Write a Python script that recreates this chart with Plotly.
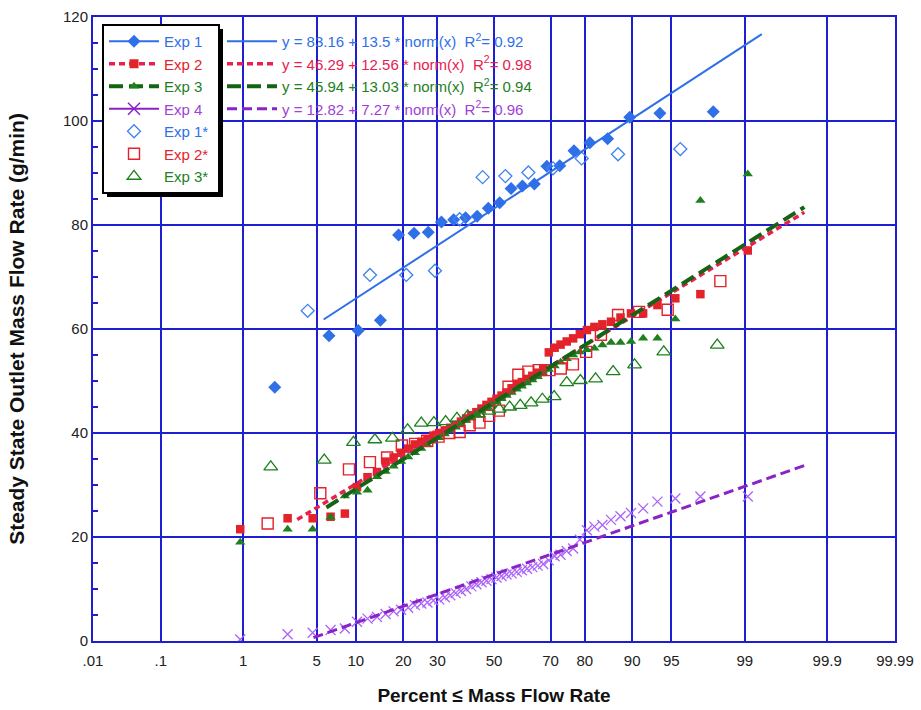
import plotly.graph_objects as go
from statistics import NormalDist

_nd = NormalDist()


def z(p):
    return _nd.inv_cdf(p / 100.0)


# ---------------- data (percent <= value, value in g/min) ----------------
exp1_pct = [2.1, 6.3, 10.4, 14.6, 18.8, 22.9, 27.1, 31.3, 35.4, 39.6, 43.8, 47.9,
            52.1, 56.3, 60.4, 64.6, 68.8, 72.9, 77.1, 81.3, 85.4, 89.6, 93.8, 97.9]
exp1_val = [48.8, 58.7, 59.7, 61.7, 78.1, 78.4, 78.6, 80.6, 81.0, 81.4, 81.7, 83.2,
            84.3, 87.0, 87.5, 87.9, 91.3, 91.4, 94.3, 95.8, 96.6, 100.7, 101.5, 101.8]

exp1s_pct = [4.2, 12.5, 20.8, 29.2, 37.5, 45.8, 54.2, 62.5, 70.8, 79.2, 87.5, 95.8]
exp1s_val = [63.5, 70.4, 70.4, 71.2, 81.1, 89.2, 89.4, 90.1, 90.9, 92.8, 93.6, 94.6]

pct54 = [0.93, 2.78, 4.63, 6.48, 8.33, 10.19, 12.04, 13.89, 15.74, 17.59, 19.44,
         21.30, 23.15, 25.0, 26.85, 28.70, 30.56, 32.41, 34.26, 36.11, 37.96, 39.81,
         41.67, 43.52, 45.37, 47.22, 49.07, 50.93, 52.78, 54.63, 56.48, 58.33, 60.19,
         62.04, 63.89, 65.74, 67.59, 69.44, 71.30, 73.15, 75.0, 76.85, 78.70, 80.56,
         82.41, 84.26, 86.11, 87.96, 89.81, 91.67, 93.52, 95.37, 97.22, 99.07]

exp2_val = [21.5, 23.6, 23.6, 23.9, 24.5, 29.6, 31.5, 32.5, 34.5, 35.3, 36.2,
            37.0, 37.8, 38.3, 38.8, 39.5, 40.0, 40.5, 41.0, 41.6, 42.2, 42.8,
            43.4, 44.0, 44.7, 45.4, 46.0, 46.6, 47.2, 47.8, 48.6, 49.2, 49.8,
            50.4, 51.0, 51.6, 52.3, 55.5, 56.4, 57.0, 57.6, 58.2, 59.0, 59.8,
            60.4, 60.9, 61.4, 62.2, 63.0, 63.0, 64.6, 65.9, 66.7, 75.1]

exp3_val = [19.0, 21.5, 21.5, 23.8, 27.9, 28.6, 29.0, 31.6, 32.6, 33.6, 34.5,
            35.4, 36.2, 37.0, 37.7, 38.4, 39.1, 39.8, 40.5, 41.1, 41.8, 42.4,
            43.0, 43.6, 44.2, 44.8, 45.4, 46.0, 46.6, 47.2, 47.8, 48.4, 49.0,
            49.6, 50.2, 50.8, 51.5, 52.2, 52.9, 53.6, 54.3, 55.0, 55.6, 56.0,
            56.3, 56.9, 57.4, 57.4, 57.6, 58.2, 58.2, 61.9, 84.7, 89.8]

exp4_val = [0.3, 1.3, 1.6, 2.1, 2.4, 3.7, 4.3, 4.6, 5.2, 5.7, 6.0,
            6.4, 6.9, 7.2, 7.4, 7.8, 8.0, 8.4, 8.8, 9.2, 9.6, 10.0,
            10.5, 10.9, 11.3, 11.6, 11.9, 12.2, 12.5, 12.8, 13.0, 13.3, 13.6,
            13.9, 14.2, 14.5, 14.8, 15.5, 16.3, 16.6, 17.3, 17.8, 19.5, 21.3,
            22.0, 22.3, 23.3, 24.0, 24.6, 25.5, 26.8, 27.4, 27.8, 27.8]

exp2s_pct = [1.79, 5.36, 8.93, 12.5, 16.07, 19.64, 23.21, 26.79, 30.36, 33.93,
             37.5, 41.07, 44.64, 48.21, 51.79, 55.36, 58.93, 62.5, 66.07, 69.64,
             73.21, 76.79, 80.36, 83.93, 87.5, 91.07, 94.64, 98.21]
exp2s_val = [22.6, 28.4, 33.0, 34.4, 35.3, 37.6, 37.9, 38.5, 39.3, 40.0,
             40.2, 41.5, 42.0, 43.3, 44.3, 48.9, 51.2, 51.8, 52.1, 52.1,
             52.4, 53.2, 55.6, 58.9, 62.7, 63.3, 63.7, 69.2]

exp3s_pct = [1.92, 5.77, 9.62, 13.46, 17.31, 21.15, 25.0, 28.85, 32.69, 36.54,
             40.38, 44.23, 48.08, 51.92, 55.77, 59.62, 63.46, 67.31, 71.15, 75.0,
             78.85, 82.69, 86.54, 90.38, 94.23, 98.08]
exp3s_val = [33.5, 34.8, 38.2, 38.7, 39.0, 40.6, 41.9, 42.0, 42.2, 42.8,
             43.3, 43.7, 44.2, 44.6, 45.0, 45.3, 45.8, 46.5, 47.0, 49.7,
             50.1, 50.4, 51.8, 53.1, 55.6, 56.9]

# fits: y = a + b * norm(x); drawn over a percent range
fit_names = ["Exp 1", "Exp 2", "Exp 3", "Exp 4"]
fit_a = [83.16, 46.29, 45.94, 12.82]
fit_b = [13.5, 12.56, 13.03, 7.27]
fit_r2 = ["0.92", "0.98", "0.94", "0.96"]
fit_pct_lo = [5.7, 3.4, 6.0, 4.7]
fit_pct_hi = [99.35, 99.8, 99.8, 99.8]

tick_pct = [0.01, 0.1, 1, 5, 10, 20, 30, 50, 70, 80, 90, 95, 99, 99.9, 99.99]
tick_txt = [".01", ".1", "1", "5", "10", "20", "30", "50", "70", "80", "90", "95",
            "99", "99.9", "99.99"]

# ---------------- styles ----------------
BLUE = "#2F6FE8"
RED = "#E3222A"
REDL = "#E8204F"
GREEN = "#1E801E"
GREENL = "#146414"
PURPLE = "#A040D8"
PURPLEL = "#8A22C8"
GRID = "#1E1ED2"
FONT = "Liberation Sans, Arial, Helvetica, sans-serif"


def col(txt, c):
    return "<span style='color:%s'>%s</span>" % (c, txt)


fig = go.Figure()


def zs(pcts):
    return [z(p) for p in pcts]


# data markers
fig.add_trace(go.Scatter(x=zs(exp1_pct), y=exp1_val, mode="markers", showlegend=False,
                         marker=dict(symbol="diamond", size=10, color=BLUE)))
fig.add_trace(go.Scatter(x=zs(pct54), y=exp2_val, mode="markers", showlegend=False,
                         marker=dict(symbol="square", size=8.5, color=RED)))
fig.add_trace(go.Scatter(x=zs(pct54), y=exp3_val, mode="markers", showlegend=False,
                         marker=dict(symbol="triangle-up", size=9, color=GREEN)))
fig.add_trace(go.Scatter(x=zs(pct54), y=exp4_val, mode="markers", showlegend=False,
                         marker=dict(symbol="x-thin-open", size=10,
                                     line=dict(color="#B45AE6", width=1.3))))
fig.add_trace(go.Scatter(x=zs(exp1s_pct), y=exp1s_val, mode="markers", showlegend=False,
                         marker=dict(symbol="diamond-open", size=10, color="#3E82F0",
                                     line=dict(width=1.3))))
fig.add_trace(go.Scatter(x=zs(exp2s_pct), y=exp2s_val, mode="markers", showlegend=False,
                         marker=dict(symbol="square-open", size=11, color=RED,
                                     line=dict(width=1.4))))
fig.add_trace(go.Scatter(x=zs(exp3s_pct), y=exp3s_val, mode="markers", showlegend=False,
                         marker=dict(symbol="triangle-up-open", size=12, color=GREEN,
                                     line=dict(width=1.3))))

line_styles = [
    dict(color=BLUE, width=2, dash="solid"),
    dict(color=REDL, width=3.5, dash="6px,4px"),
    dict(color=GREENL, width=4, dash="14px,6px"),
    dict(color=PURPLEL, width=3, dash="10px,5px"),
]
text_cols = [BLUE, REDL, GREEN, PURPLE]

# fit lines (legend2)
for i in range(4):
    xs = [z(fit_pct_lo[i]), z(fit_pct_hi[i])]
    ys = [fit_a[i] + fit_b[i] * v for v in xs]
    label = "y = %s + %s * norm(x)  R<sup>2</sup>= %s" % (fit_a[i], fit_b[i], fit_r2[i])
    fig.add_trace(go.Scatter(x=xs, y=ys, mode="lines", line=line_styles[i],
                             name=col(label, text_cols[i]), legend="legend2",
                             legendgroup="f%d" % i, hoverinfo="skip"))

# legend-only entries (legend 1)
leg1 = [
    ("Exp 1", "lines+markers", dict(symbol="diamond", size=10, color=BLUE), line_styles[0], BLUE),
    ("Exp 2", "lines+markers", dict(symbol="square", size=9, color=RED), line_styles[1], RED),
    ("Exp 3", "lines+markers", dict(symbol="triangle-up", size=9, color=GREEN), line_styles[2], GREEN),
    ("Exp 4", "lines+markers", dict(symbol="x-thin-open", size=12, line=dict(color=PURPLEL, width=1.5)),
     dict(color=PURPLEL, width=2), PURPLE),
    ("Exp 1*", "markers", dict(symbol="diamond-open", size=10, color="#3E82F0", line=dict(width=1.3)), None, BLUE),
    ("Exp 2*", "markers", dict(symbol="square-open", size=11, color=RED, line=dict(width=1.4)), None, RED),
    ("Exp 3*", "markers", dict(symbol="triangle-up-open", size=12, color=GREEN, line=dict(width=1.3)), None, GREEN),
]
for j, (nm, mode, mk, ln, tc) in enumerate(leg1):
    kw = dict(x=[None], y=[None], mode=mode, marker=mk, name=col(nm, tc),
              legend="legend", legendgroup="g%d" % j)
    if ln is not None:
        kw["line"] = ln
    fig.add_trace(go.Scatter(**kw))

L, R, T, B = 93, 26, 17, 69
W, H = 921, 710
pw, ph = W - L - R, H - T - B


def px2paper(xp, yp):
    return (xp - L) / pw, (H - B - yp) / ph


x0, y0 = px2paper(103, 25)
x1, y1 = px2paper(219, 193)
sx0, sy0 = px2paper(107, 29)
sx1, sy1 = px2paper(223, 197)
lx, ly = px2paper(104, 25)
l2x, _ = px2paper(222, 0)

fig.update_layout(
    width=W, height=H,
    margin=dict(l=L, r=R, t=T, b=B, autoexpand=False),
    paper_bgcolor="white", plot_bgcolor="white",
    font=dict(family=FONT, size=15, color="#222"),
    xaxis=dict(range=[z(0.01), z(99.99)], tickvals=zs(tick_pct), ticktext=tick_txt,
               automargin=False,
               showgrid=True, gridcolor=GRID, gridwidth=1.5, zeroline=False,
               showline=True, linecolor=GRID, linewidth=2, mirror=True, ticks="",
               ticklabelstandoff=5,
               tickfont=dict(size=15, color="#222"),
               title=dict(text="<b>Percent ≤ Mass Flow Rate</b>", font=dict(size=19, color="#111"),
                          standoff=21)),
    yaxis=dict(range=[0, 120], dtick=20, automargin=False,
               showgrid=True, gridcolor=GRID, gridwidth=1.5,
               zeroline=False, showline=True, linecolor=GRID, linewidth=2, mirror=True,
               ticks="inside", ticklen=5, tickcolor=GRID, tickwidth=1.5,
               minor=dict(dtick=5, ticks="inside", ticklen=5, tickcolor=GRID, tickwidth=1.5,
                          showgrid=False),
               ticklabelstandoff=0,
               tickfont=dict(size=15, color="#222"),
               title=dict(text="<b>Steady State Outlet Mass Flow Rate (g/min)</b>",
                          font=dict(size=21, color="#111"), standoff=33)),
    legend=dict(x=lx, y=ly, xanchor="left", yanchor="top", itemwidth=50,
                bgcolor="rgba(0,0,0,0)", borderwidth=0, tracegroupgap=0,
                font=dict(family=FONT, size=15)),
    legend2=dict(x=l2x, y=ly, xanchor="left", yanchor="top", itemwidth=50,
                 bgcolor="rgba(0,0,0,0)", borderwidth=0, tracegroupgap=0,
                 font=dict(family=FONT, size=15)),
    shapes=[
        dict(type="rect", xref="paper", yref="paper", x0=sx0, y0=sy0, x1=sx1, y1=sy1,
             fillcolor="black", line=dict(width=0), layer="above"),
        dict(type="rect", xref="paper", yref="paper", x0=x0, y0=y0, x1=x1, y1=y1,
             fillcolor="white", line=dict(color="black", width=2), layer="above"),
    ],
)

fig.write_html("out.html", config={"displayModeBar": False},
               post_script="document.body.style.margin='0';")
